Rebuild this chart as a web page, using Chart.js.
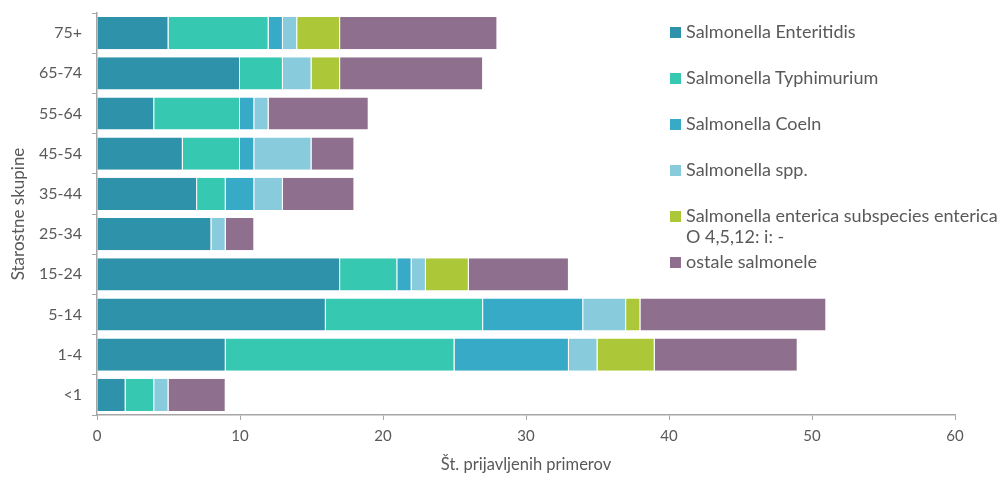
<!DOCTYPE html>
<html>
<head>
<meta charset="utf-8">
<script src="https://cdn.jsdelivr.net/npm/chart.js@4"></script>
<style>
  html, body { margin: 0; padding: 0; background: #fff; }
  #wrap { position: relative; width: 998px; height: 477px; }
  #chart1 { display: block; }
  #legend { position: absolute; left: 670px; top: 21px; font-family: Lato, sans-serif; font-size: 18px; color: #595959; }
  #legend div { position: absolute; white-space: nowrap; line-height: 21px; }
  #legend span { display: inline-block; width: 11px; height: 11px; margin-right: 5px; vertical-align: 0px; }
  #legend .sub { padding-left: 16px; font-style: normal; }
</style>
</head>
<body>
<div id="wrap">
  <canvas id="chart1" width="998" height="477"></canvas>
  <div id="legend"></div>
</div>
<script>
    var ageGroups = ['75+', '65-74', '55-64', '45-54', '35-44', '25-34', '15-24', '5-14', '1-4', '<1'];

    var enteritidis = [5, 10, 4, 6, 7, 8, 17, 16, 9, 2];
    var typhimurium = [7, 3, 6, 4, 2, 0, 4, 11, 16, 2];
    var coeln       = [1, 0, 1, 1, 2, 0, 1, 7, 8, 0];
    var spp         = [1, 2, 1, 4, 2, 1, 1, 3, 2, 1];
    var enterica    = [3, 2, 0, 0, 0, 0, 3, 1, 4, 0];
    var ostale      = [11, 10, 7, 3, 5, 2, 7, 13, 10, 4];

    var seriesNames = [
      'Salmonella Enteritidis',
      'Salmonella Typhimurium',
      'Salmonella Coeln',
      'Salmonella spp.',
      'Salmonella enterica subspecies enterica|O 4,5,12: i: -',
      'ostale salmonele'
    ];
    var seriesColors = ['#2e93aa', '#37c8b2', '#37aac8', '#88cbdc', '#acc838', '#8e708e'];
    var seriesValues = [enteritidis, typhimurium, coeln, spp, enterica, ostale];

    var gray = '#595959';
    var axisGray = '#a6a6a6';
    var font = 'Lato, sans-serif';

    var datasets = seriesValues.map(function (vals, i) {
      return {
        label: seriesNames[i].replace('|', ' '),
        data: vals,
        backgroundColor: seriesColors[i],
        borderColor: '#ffffff',
        borderWidth: { right: 1 },
        borderSkipped: false,
        barPercentage: 0.8,
        categoryPercentage: 1
      };
    });

    var ctx = document.getElementById('chart1').getContext('2d');
    new Chart(ctx, {
      type: 'bar',
      data: { labels: ageGroups, datasets: datasets },
      options: {
        responsive: false,
        animation: false,
        indexAxis: 'y',
        layout: { padding: { top: 13, right: 43, bottom: 0, left: 8 } },
        plugins: {
          legend: { display: false },
          tooltip: { enabled: false }
        },
        scales: {
          x: {
            stacked: true,
            min: 0,
            max: 60,
            ticks: { stepSize: 10, color: gray, font: { family: font, size: 15 }, padding: 7 },
            grid: { drawOnChartArea: false, drawTicks: true, tickLength: 5, color: axisGray },
            border: { color: axisGray, width: 1.5 },
            title: { display: true, text: 'Št. prijavljenih primerov', color: gray, font: { family: font, size: 16.5 }, padding: { top: 4, bottom: 2 } },
            afterFit: function (s) { s.height = 62; }
          },
          y: {
            stacked: true,
            ticks: { color: gray, font: { family: font, size: 16 }, padding: 10 },
            grid: { drawOnChartArea: false, drawTicks: true, tickLength: 5, color: axisGray, offset: true },
            border: { color: axisGray, width: 1.5 },
            title: { display: true, text: 'Starostne skupine', color: gray, font: { family: font, size: 17 }, padding: 0 },
            afterFit: function (s) { s.width = 89; s.paddingTop = 0; s.paddingBottom = 0; }
          }
        }
      }
    });

    // legend drawn as html so the long label can wrap like the original
    var legendTops = [0, 46, 92, 138, 184, 230];
    var legend = document.getElementById('legend');
    seriesNames.forEach(function (name, i) {
      var parts = name.split('|');
      var item = document.createElement('div');
      item.style.top = legendTops[i] + 'px';
      var html = '<span style="background:' + seriesColors[i] + '"></span>' + parts[0];
      if (parts[1]) html += '<br><i class="sub">' + parts[1] + '</i>';
      item.innerHTML = html;
      legend.appendChild(item);
    });
</script>
</body>
</html>
